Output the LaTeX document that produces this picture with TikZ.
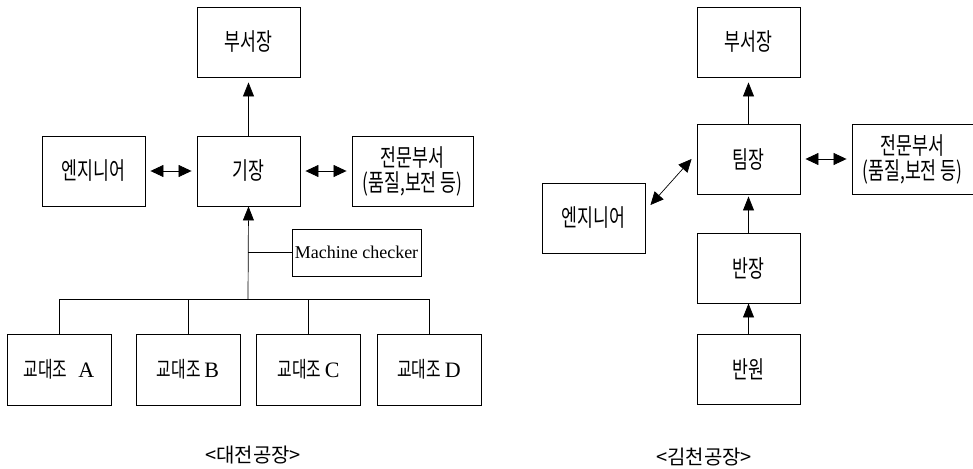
\documentclass[tikz,border=0pt]{standalone}
\usepackage{fontspec}
\setmainfont{Liberation Serif}
\newfontfamily\krfont[FakeStretch=0.72]{Noto Sans CJK KR}
\newfontfamily\krwide{Noto Sans CJK KR}
\usetikzlibrary{positioning,arrows.meta}

\begin{document}
\begin{tikzpicture}[x=1pt, y=-1pt,
                box/.style={rectangle, draw=black, line width=0.9pt, minimum width=103pt, minimum height=70pt, inner sep=0pt, text centered, align=center, font=\krfont\fontsize{24}{25}\selectfont},
                crew/.style={box, minimum width=104pt, minimum height=71pt, font=\krfont\fontsize{22}{24}\selectfont},
                checker/.style={box, minimum width=129pt, minimum height=47pt, font=\fontsize{18}{20}\selectfont},
                title/.style={font=\krwide\fontsize{20}{22}\selectfont},
                link/.style={line width=0.7pt},
                up/.style={link, -{Triangle[length=14pt,width=11pt]}},
                both/.style={link, {Triangle[length=13pt,width=12pt]}-{Triangle[length=13pt,width=12pt]}, shorten <=5pt, shorten >=5pt}
            ]
            \useasboundingbox (0,0) rectangle (973,468);
            % Daejeon plant
            \node (Boss1) [box] at (248.5,42) {부서장};
            \node (Chief1) [box] at (248.5,171) {기장};
            \node (Eng1) [box] at (93.5,171) {엔지니어};
            \node (Dept1) [box, minimum width=121pt] at (412.5,171) {전문부서\\(품질,보전 등)};
            \node (Checker) [checker] at (356.5,252.5) {Machine checker};
            \node (CrewA) [crew] at (59,369.5) {교대조\,\, {\rmfamily A}};
            \node (CrewB) [crew] at (188,369.5) {교대조\,{\rmfamily B}};
            \node (CrewC) [crew] at (308.5,369.5) {교대조\,{\rmfamily C}};
            \node (CrewD) [crew] at (429,369.5) {교대조\,{\rmfamily D}};
            \node (Title1) [title] at (253,455) {<대전공장>};
            \coordinate (Bus) at (248,299);

            \draw[up, shorten >=5pt] (Chief1.north) -- (Boss1.south);
            \draw[both] (Eng1.east) -- (Chief1.west);
            \draw[both] (Chief1.east) -- (Dept1.west);
            \draw[link] (CrewA.north) |- (Bus);
            \draw[link] (CrewB.north) |- (Bus);
            \draw[link] (CrewC.north) |- (Bus);
            \draw[link] (CrewD.north) |- (Bus);
            \draw[link] (Checker.west) -- (Checker.west -| Bus);
            \draw[up] (Bus) -- (Chief1.south);

            % Gimcheon plant
            \node (Boss2) [box] at (748.5,42) {부서장};
            \node (Team) [box] at (748.5,159) {팀장};
            \node (Dept2) [box, minimum width=121pt] at (912.5,159) {전문부서\\(품질,보전 등)};
            \node (Eng2) [box] at (593.5,218) {엔지니어};
            \node (Leader) [box] at (748.5,268) {반장};
            \node (Member) [box] at (748.5,369) {반원};
            \node (Title2) [title] at (704,457) {<김천공장>};

            \draw[up, shorten >=5pt] (Team.north) -- (Boss2.south);
            \draw[up, shorten >=2pt] (Leader.north) -- (Team.south);
            \draw[up] (Member.north) -- (Leader.south);
            \draw[both] (Team.east) -- (Dept2.west);
            \draw[both, shorten <=0pt, shorten >=0pt] ([xshift=5pt,yshift=13pt]Eng2.east) -- ([xshift=-5pt]Team.west);
\end{tikzpicture}
\end{document}
